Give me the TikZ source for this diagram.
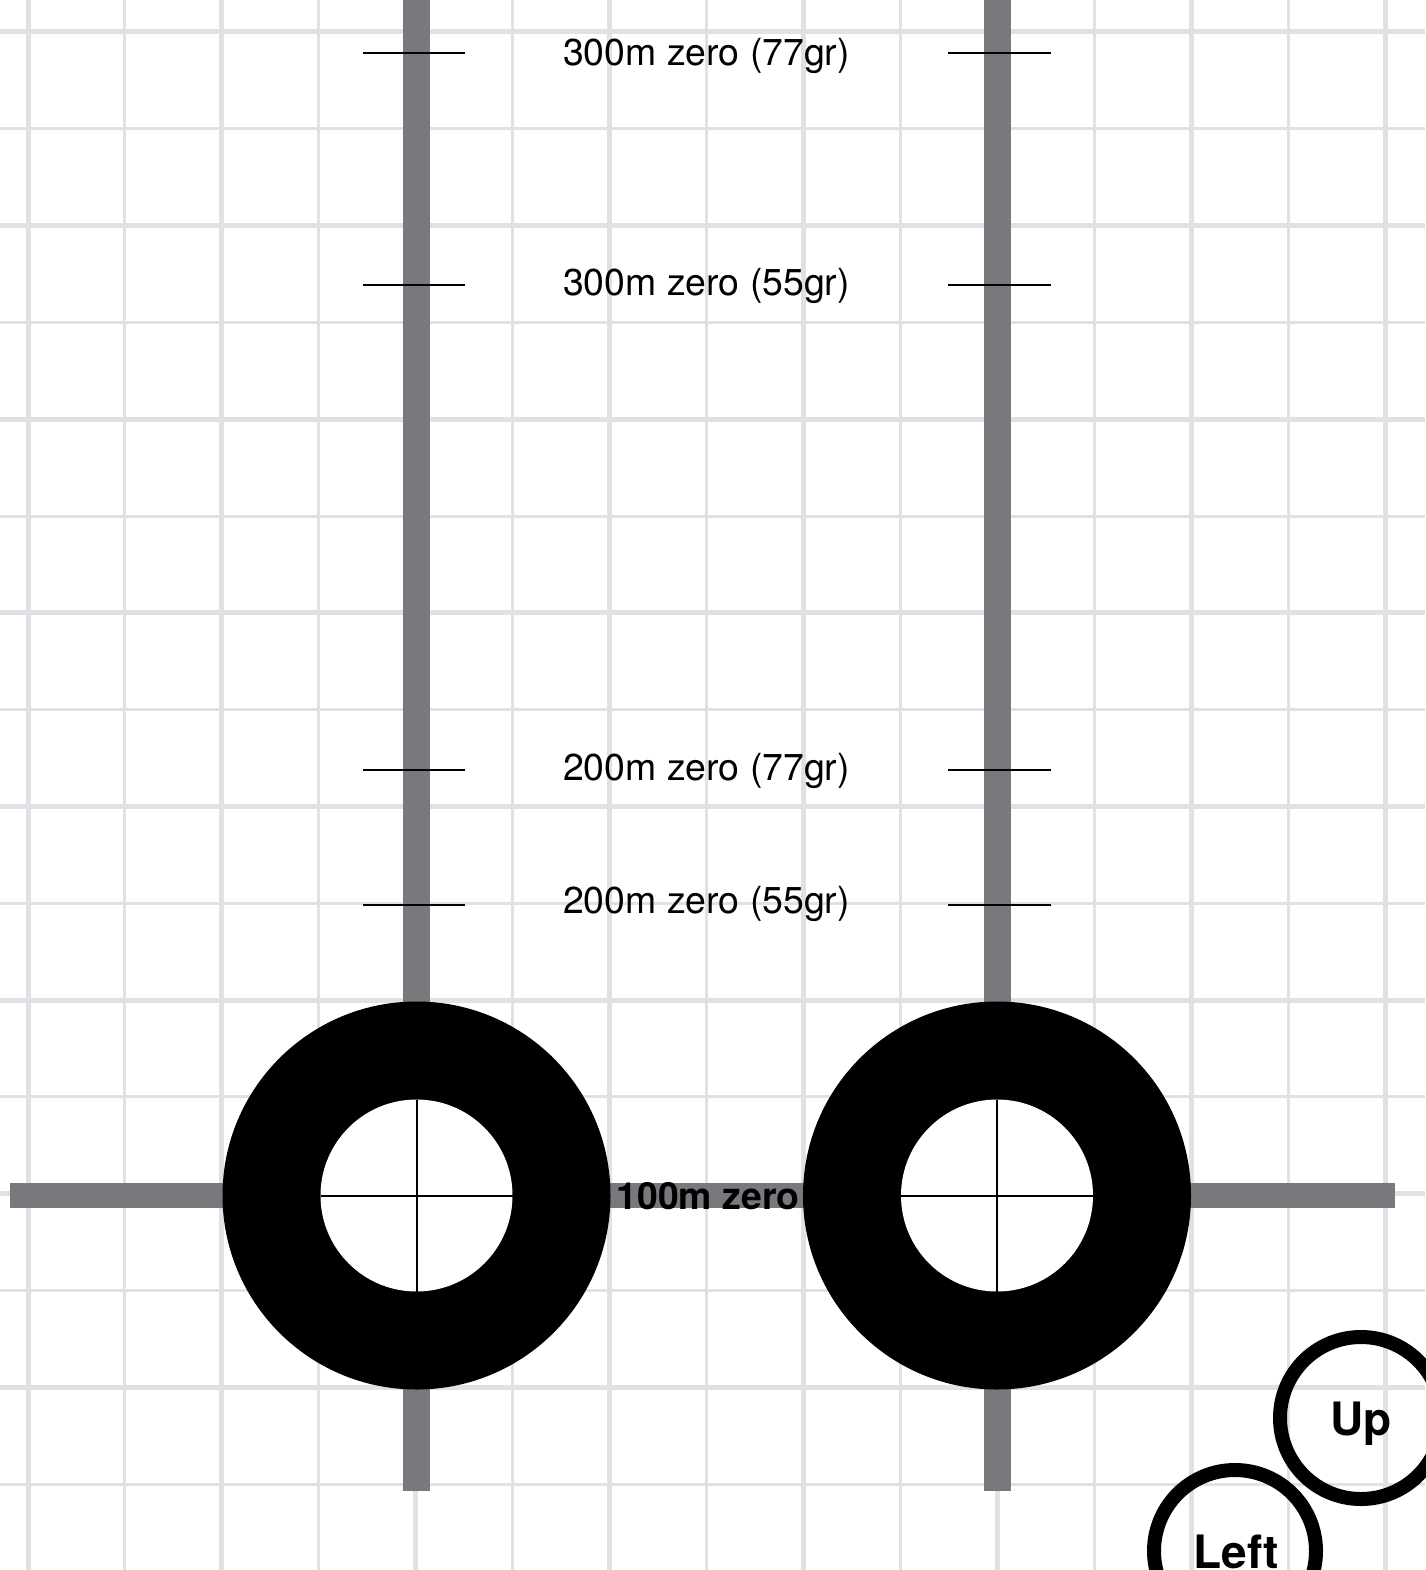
\documentclass[tikz,border=0pt]{standalone}
\usepackage{fontspec}
\setmainfont{TeX Gyre Heros}
\usepackage{xcolor}
\usepackage{tikz}
\usetikzlibrary{positioning}
\definecolor{gridgray}{RGB}{224,225,228}
\definecolor{bargray}{RGB}{120,121,125}

\begin{document}
\begin{tikzpicture}[x=1pt,y=-1pt,
    gridline/.style={draw=gridgray,line width=#1},
    bar/.style={draw=bargray,line width=#1},
    tickline/.style={draw=black,line width=2.2pt},
    zerolabel/.style={font=\fontsize{37.4}{44}\selectfont,anchor=base,inner sep=0pt},
    dirlabel/.style={font=\fontsize{46}{54}\selectfont\bfseries,anchor=base,inner sep=0pt},
    dirring/.style={draw=black,line width=14pt}]
    \useasboundingbox (0,0) rectangle (1425,1570);
    \fill[white] (0,0) rectangle (1425,1570);
    % grid
    \foreach \i in {1,3,...,13} \draw[gridline=3pt] (28+96.93*\i,0) -- (28+96.93*\i,1570);
    \foreach \i in {0,2,...,14} \draw[gridline=5pt] (28+96.93*\i,0) -- (28+96.93*\i,1570);
    \foreach \j in {1,3,...,15} \draw[gridline=3pt] (0,32+96.8*\j) -- (1425,32+96.8*\j);
    \foreach \j in {0,2,...,14} \draw[gridline=5pt] (0,32+96.8*\j) -- (1425,32+96.8*\j);
    % sight bars
    \coordinate (lc) at (416.5,1195.5);
    \coordinate (rc) at (997,1195.5);
    \draw[bar=27pt] (416.5,0) -- (416.5,1491);
    \draw[bar=27pt] (997,0) -- (997,1491);
    \draw[bar=25pt] (10,1195.5) -- (1395,1195.5);
    % rings
    \foreach \c in {lc,rc} {
      \fill[black] (\c) circle[radius=194];
      \fill[white] (\c) circle[radius=96];
      \draw[line width=2pt] ([xshift=-96pt]\c) -- ([xshift=96pt]\c);
      \draw[line width=2pt] ([yshift=-96pt]\c) -- ([yshift=96pt]\c);
    }
    % zero marks
    \foreach \y in {53,285,770,905} {
      \draw[tickline] (363,\y) -- (465,\y);
      \draw[tickline] (948,\y) -- (1051,\y);
    }
    \node[zerolabel] (z300h) at (706.5,66) {300m zero (77gr)};
    \node[zerolabel] (z300l) at (706.5,295.5) {300m zero (55gr)};
    \node[zerolabel] (z200h) at (706.5,780) {200m zero (77gr)};
    \node[zerolabel] (z200l) at (706.5,913) {200m zero (55gr)};
    \node[zerolabel,font=\fontsize{37.4}{44}\selectfont\bfseries] (z100) at (708,1209) {100m zero};
    % direction rings
    \draw[dirring] (1361,1418) circle[radius=81];
    \node[dirlabel] (up) at (1361,1435) {Up};
    \draw[dirring] (1235,1551) circle[radius=81];
    \node[dirlabel] (left) at (1236,1568) {Left};
\end{tikzpicture}
\end{document}
